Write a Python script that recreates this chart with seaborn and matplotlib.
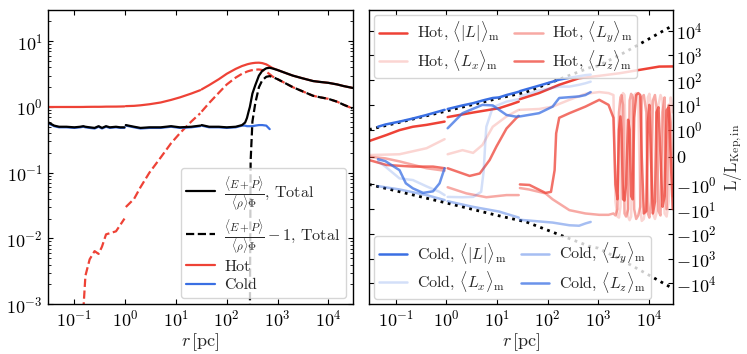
import numpy as np
import pandas as pd
import matplotlib
matplotlib.use("Agg")
import matplotlib.pyplot as plt
import seaborn as sns
from matplotlib.lines import Line2D
from matplotlib.ticker import NullLocator

# ---------------- left panel: energy ratio vs radius ----------------
r_left = [0.031, 0.04, 0.05, 0.07, 0.1, 0.13, 0.15, 0.165, 0.2, 0.25, 0.3, 0.35, 0.42, 0.5, 0.66, 0.8, 0.97,
          1.0, 1.03, 1.5, 2, 3, 5, 8, 12, 20, 30, 31, 32, 45, 70, 100, 150, 200, 230, 250, 270, 285, 295,
          320, 365, 430, 500, 600, 700, 800, 1000, 1500, 2000, 3000, 5000, 7000, 1e4, 1.5e4, 2e4, 3e4]
hot_ratio = [0.999, 0.999, 0.9992, 0.9994, 0.9996, 0.9998, 1.0008, 1.0027, 1.0048, 1.0064, 1.0058, 1.0075,
             1.0115, 1.012, 1.0128, 1.016, 1.02, np.nan, 1.03, 1.04, 1.06, 1.1, 1.17, 1.28, 1.4, 1.6, 1.8,
             np.nan, 1.85, 2.15, 2.65, 3.2, 3.8, 4.2, 4.35, 4.45, 4.52, 4.56, 4.59, 4.64, 4.7, 4.72, 4.65,
             4.45, 4.15, 3.9, 3.65, 3.25, 3.0, 2.75, 2.48, 2.4, 2.33, 2.2, 2.08, 1.95]
total_ratio = [0.58, 0.52, 0.5, 0.5, 0.49, 0.5, 0.51, 0.5, 0.49, 0.48, 0.51, 0.48, 0.51, 0.49, 0.5, 0.49, 0.49,
               np.nan, 0.53, 0.5, 0.48, 0.49, 0.49, 0.51, 0.49, 0.5, 0.52, np.nan, 0.53, 0.5, 0.5, 0.49, 0.5,
               0.53, 0.58, 0.68, 0.86, 1.0005, 1.15, 1.6, 2.15, 3.0, 3.55, 3.88, 3.95, 3.85, 3.65, 3.25, 3.0,
               2.75, 2.48, 2.4, 2.33, 2.2, 2.08, 1.95]
cold_ratio = [0.56, 0.51, 0.49, 0.49, 0.48, 0.49, 0.5, 0.49, 0.48, 0.47, 0.5, 0.47, 0.5, 0.48, 0.49, 0.48, 0.48,
              np.nan, 0.52, 0.49, 0.47, 0.48, 0.48, 0.5, 0.48, 0.49, 0.51, np.nan, 0.52, 0.49, 0.49, 0.48, 0.49,
              0.52, 0.52, 0.51, 0.51, 0.51, 0.51, 0.51, 0.52, 0.53, 0.53, 0.52, 0.46, np.nan, np.nan, np.nan,
              np.nan, np.nan, np.nan, np.nan, np.nan, np.nan, np.nan, np.nan]

# ---------------- right panel: angular momentum components ----------------
kep_r = [0.03, 0.1, 1, 10, 38, 200, 660, 1000, 3160, 1e4, 3e4]
kep_L = [1.0, 1.8, 5.6, 17.8, 33, 123, 316, 380, 1260, 4680, 16600]

hotL_r = [0.03, 0.066, 0.12, 0.22, 0.41, 0.93, 1.0, 1.07, 3.4, 11, 19, 27, 27.5, 28.5, 68, 170, 420, 1050,
          2600, 6500, 1.6e4, 3e4]
hotL_v = [0.58, 0.8, 0.98, 1.3, 1.55, 2.1, np.nan, 3.2, 4.9, 7.3, 10.5, 13.5, np.nan, 17, 30, 65, 120, 150,
          190, 260, 355, 360]

osc_r = [1600, 2000, 2190, 2400, 2570, 2750, 2880, 3090, 3310, 3550, 3890, 4170, 4470, 4790, 5130, 5620, 6170,
         6760, 7240, 7940, 8910, 9550, 10230, 10960, 12020, 13180, 14130, 15490, 16980, 18620, 20420, 22390,
         24550, 26920, 29500]
hotLx_r = [0.03, 0.12, 0.41, 0.93, 1.0, 1.07, 2.1, 3.4, 5.2, 8.3, 15.5, 27, 27.5, 28.5, 68, 126, 270, 560,
           1050] + osc_r
hotLx_v = [0.07, 0.1, 0.32, 0.65, np.nan, 0.1, 0.25, 0.15, 0.44, 1.3, 3.4, 6.3, np.nan, 6.3, 6.8, 8.5, 16, 28,
           33, 30, 25, -5, -20, -22, -8, 15, 30, 25, 0, -20, -28, -20, 5, 25, 30, 20, -10, -30, -25, -5, 20,
           28, 10, -15, -25, -15, 10, 25, 15, -15, -20, -5, 20, 5]
hotLy_r = [0.03, 0.063, 0.12, 0.41, 0.93, 1.0, 1.07, 2.5, 6.2, 15.5, 27, 27.5, 28.5, 43, 91, 126, 270, 560,
           1050] + osc_r
hotLy_v = [0.01, -0.05, -0.16, -0.41, -0.5, np.nan, -1.3, -2.3, -3.3, -2.7, -2.7, np.nan, -1.4, -1.6, -2.3,
           -4, -11, -15, -17, -17, -15, -18, -10, 5, 20, 25, 10, -15, -20, -10, 15, 28, 20, -10, -25, -18, -8,
           20, 25, 5, -15, -22, -5, 15, 25, 8, -12, -18, 5, 20, -10, 10, 2, -3]
hotLz_r = [0.03, 0.066, 0.22, 0.55, 0.93, 1.0, 1.07, 2.9, 4.6, 7.2, 9.8, 15.5, 24.5, 27, 27.5, 28.5, 44, 91,
           117, 138, 148, 170, 270, 560, 1050] + osc_r
hotLz_v = [-0.11, -0.29, -0.35, -0.35, -0.41, np.nan, -0.41, -0.69, -0.6, -0.11, 0.38, 1.1, 3.0, 3.4, np.nan,
           -1.0, -1.05, -2.2, -2.0, -0.48, 0.86, 3.0, 4.6, 8.5, 16, 10, 3, -1, -4, 1, 3.4, 1, -4, -4.5, -1,
           2.5, 1, -3, -4, 3, 25, 30, 25, 0, -15, -12, 2, 10, 0, -15, -5, 5, 8, 0, -8, -3, 6, 8, 0, -10]

coldL_r = [0.045, 0.063, 0.12, 0.22, 0.41, 0.74, 0.93, 1.0, 1.07, 2.1, 3.4, 5.2, 8.3, 11, 15.5, 24.5, 27,
           27.5, 28.5, 68, 126, 170, 270, 420, 560, 710]
coldL_v = [1.3, 1.6, 2.1, 2.8, 3.9, 5.5, 6.3, np.nan, 6.8, 9.5, 11.7, 15, 19, 20, 25, 32, 34, np.nan, 36, 60,
           87, 105, 125, 145, 160, 168]
coldLx_r = [0.045, 0.063, 0.12, 0.22, 0.41, 0.74, 0.93, 1.0, 1.07, 2.1, 3.4, 4.9, 5.5, 5.9, 6.2, 8.3, 15.5, 27,
            27.5, 28.5, 68, 170, 270, 420, 560, 710]
coldLx_v = [-0.15, -0.35, -0.78, -0.84, -1.2, -2.0, -2.7, np.nan, -3.2, -3.3, -3.2, -2.0, -0.5, 0.5, 1.3, 8,
            13.5, 17, np.nan, 22, 38, 55, 55, 65, 75, 87]
coldLy_r = [0.045, 0.12, 0.41, 0.93, 1.0, 1.07, 3.4, 11, 27, 27.5, 28.5, 126, 270, 420, 560, 710]
coldLy_v = [-1.17, -1.6, -2.7, -4.3, np.nan, -4.8, -8.1, -12.5, -22, np.nan, -27, -35, -45, -47, -38, -33]
coldLz_r = [0.045, 0.063, 0.12, 0.16, 0.22, 0.35, 0.55, 0.74, 0.93, 1.0, 1.07, 2.1, 5.2, 8.3, 15.5, 24.5, 27,
            27.5, 28.5, 68, 126, 170, 420, 560, 710]
coldLz_v = [-0.08, -0.15, -0.48, -0.96, -1.44, -2.2, -1.9, -0.96, -0.41, np.nan, 1.13, 4.6, 10, 9.5, 3.9, 3.3,
            3.6, np.nan, 3.4, 4.6, 8.5, 19, 22, 25, 33]

x_ticks = [1e-1, 1e0, 1e1, 1e2, 1e3, 1e4]

HOT = "#ee4236"
COLD = "#3a6fe3"

sns.set_style("ticks", {"xtick.direction": "in", "ytick.direction": "in"})
plt.rcParams.update({
    "font.family": ["cmr10", "DejaVu Serif"],
    "mathtext.fontset": "cm",
    "axes.formatter.use_mathtext": True,
    "xtick.top": True, "ytick.right": True,
    "xtick.minor.visible": True,
    "axes.edgecolor": "black",
    "axes.linewidth": 1.0,
    "xtick.color": "black", "ytick.color": "black",
    "xtick.labelsize": 13, "ytick.labelsize": 13,
    "axes.labelsize": 13,
    "font.size": 12,
})


def draw(ax, r, v, positive=False, **kw):
    """Plot one curve with seaborn, breaking the line at NaN entries."""
    df = pd.DataFrame({"r": r, "v": v})
    df["seg"] = df["v"].isna().cumsum()
    if positive:
        df.loc[df["v"] <= 0, "v"] = np.nan
    df = df.dropna()
    sns.lineplot(data=df, x="r", y="v", units="seg", estimator=None, sort=False,
                 ax=ax, legend=False, **kw)


fig = plt.figure(figsize=(7.47, 3.54), dpi=100)
ax1 = fig.add_axes([0.064, 0.141, 0.408, 0.831])
ax2 = fig.add_axes([0.494, 0.141, 0.407, 0.831])

# left
hot_m1 = np.array(hot_ratio) - 1
tot_m1 = np.array(total_ratio) - 1
draw(ax1, r_left, hot_ratio, color=HOT, lw=1.6)
draw(ax1, r_left, hot_m1, positive=True, color=HOT, lw=1.6, ls="--")
draw(ax1, r_left, cold_ratio, color=COLD, lw=1.6)
draw(ax1, r_left, total_ratio, color="black", lw=1.6)
draw(ax1, r_left, tot_m1, positive=True, color="black", lw=1.6, ls="--")
ax1.set_xscale("log")
ax1.set_yscale("log")
ax1.set_xticks(x_ticks)
ax1.set_yticks([1e-3, 1e-2, 1e-1, 1e0, 1e1])
ax1.set_xlim(0.03, 3e4)
ax1.set_ylim(1e-3, 3e1)
ax1.set_xlabel(r"$r\,[\rm pc]$", labelpad=1)
ax1.set_ylabel("")
ax1.tick_params(which="both", direction="in", top=True, right=True)
h1 = [Line2D([], [], color="black", lw=1.6),
      Line2D([], [], color="black", lw=1.6, ls="--"),
      Line2D([], [], color=HOT, lw=1.6),
      Line2D([], [], color=COLD, lw=1.6)]
l1 = [r"$\frac{\langle E+P\rangle}{\langle\rho\rangle\Phi}$, Total",
      r"$\frac{\langle E+P\rangle}{\langle\rho\rangle\Phi}-1$, Total",
      "Hot", "Cold"]
ax1.legend(h1, l1, loc="lower right", fontsize=11.5, labelspacing=0.25, handlelength=1.8,
           handletextpad=0.6, borderpad=0.35, borderaxespad=0.4)

# right
kep_neg = [-x for x in kep_L]
draw(ax2, kep_r, kep_L, color="black", lw=2, ls=":")
draw(ax2, kep_r, kep_neg, color="black", lw=2, ls=":")
hot_specs = [(hotL_r, hotL_v, 1.0), (hotLx_r, hotLx_v, 0.22), (hotLy_r, hotLy_v, 0.45), (hotLz_r, hotLz_v, 0.75)]
cold_specs = [(coldL_r, coldL_v, 1.0), (coldLx_r, coldLx_v, 0.22), (coldLy_r, coldLy_v, 0.45),
              (coldLz_r, coldLz_v, 0.75)]
for rr, vv, a in hot_specs[::-1]:
    draw(ax2, rr, vv, color=HOT, alpha=a, lw=1.8)
for rr, vv, a in cold_specs[::-1]:
    draw(ax2, rr, vv, color=COLD, alpha=a, lw=1.8)
ax2.set_xscale("log")
ax2.set_yscale("symlog", linthresh=1)
ax2.set_xticks(x_ticks)
ax2.set_xlim(0.03, 3e4)
ax2.set_ylim(-7e4, 7e4)
ax2.yaxis.set_minor_locator(NullLocator())
ax2.yaxis.tick_right()
ax2.yaxis.set_label_position("right")
ax2.tick_params(axis="y", which="both", left=True, labelleft=False, right=True, labelright=True, pad=2)
ax2.tick_params(axis="x", which="both", top=True)
ax2.set_xlabel(r"$r\,[\rm pc]$", labelpad=1)
ax2.set_ylabel(r"$\mathrm{L/L_{Kep,in}}$", fontsize=12, labelpad=4)

comp = [r"$\langle|L|\rangle_\mathrm{m}$", r"$\langle L_x\rangle_\mathrm{m}$",
        r"$\langle L_y\rangle_\mathrm{m}$", r"$\langle L_z\rangle_\mathrm{m}$"]
alphas = [1.0, 0.22, 0.45, 0.75]
hh = [Line2D([], [], color=HOT, alpha=a, lw=1.8) for a in alphas]
hc = [Line2D([], [], color=COLD, alpha=a, lw=1.8) for a in alphas]
leg_kw = dict(ncol=2, fontsize=11.5, labelspacing=0.2, columnspacing=0.9, handlelength=1.8,
              handletextpad=0.6, borderpad=0.3, borderaxespad=0.3)
leg_hot = ax2.legend(hh, ["Hot, " + c for c in comp], loc="upper left", **leg_kw)
ax2.add_artist(leg_hot)
ax2.legend(hc, ["Cold, " + c for c in comp], loc="lower left", **leg_kw)

fig.savefig("out.png", dpi=100)
